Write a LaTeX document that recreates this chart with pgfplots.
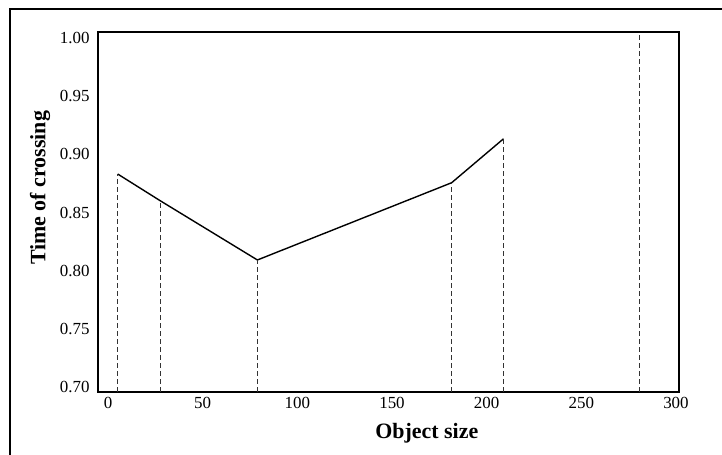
\documentclass[border=0pt]{standalone}
\usepackage{pgfplots}
\pgfplotsset{compat=1.18}
\usepackage{fontspec}
\setmainfont{Liberation Serif}
\begin{document}
\begin{tikzpicture}
\begin{axis}[
  scale only axis,
  width=581bp, height=360bp,
  xmin=-5.3, xmax=301.6,
  ymin=0.6957, ymax=1.0052,
  axis line style={line width=2bp},
  major tick length=0pt,
  xtick={0,50,100,150,200,250,300},
  ytick={0.70,0.75,0.80,0.85,0.90,0.95,1.00},
  /pgf/number format/assume math mode=true,
  tick label style={font=\fontsize{17}{19}\selectfont},
  xticklabel style={yshift=-2bp},
  yticklabel style={/pgf/number format/fixed, /pgf/number format/fixed zerofill, /pgf/number format/precision=2, xshift=-5bp},
  xlabel={Object size},
  ylabel={Time of crossing},
  label style={font=\fontsize{22}{24}\selectfont\bfseries},
  xlabel style={at={(axis description cs:0.566,-0.114)}, anchor=center},
  ylabel style={at={(axis description cs:-0.0998,0.567)}, anchor=center},
  clip=true,
]
\addplot[line width=1.4bp, black] coordinates {
  (5.1,0.8831) (27.6,0.8601) (78.9,0.8092) (181.5,0.8756) (208.9,0.9134)
};
\pgfplotsset{drop/.style={line width=1.3bp, black!80, dash pattern=on 5bp off 3bp}}
\addplot[drop] coordinates {(5.1,0.6957) (5.1,0.8831)};
\addplot[drop] coordinates {(27.6,0.6957) (27.6,0.8601)};
\addplot[drop] coordinates {(78.9,0.6957) (78.9,0.8092)};
\addplot[drop] coordinates {(181.5,0.6957) (181.5,0.8756)};
\addplot[drop] coordinates {(208.9,0.6957) (208.9,0.9134)};
\addplot[drop] coordinates {(280.9,0.6957) (280.9,1.0052)};
\end{axis}
\draw[line width=2.5bp] (-88bp,-63bp) -- (-88bp,383bp) -- (624bp,383bp);
\pgfresetboundingbox
\path (-98bp,-63bp) rectangle (624bp,392bp);
\end{tikzpicture}
\end{document}
